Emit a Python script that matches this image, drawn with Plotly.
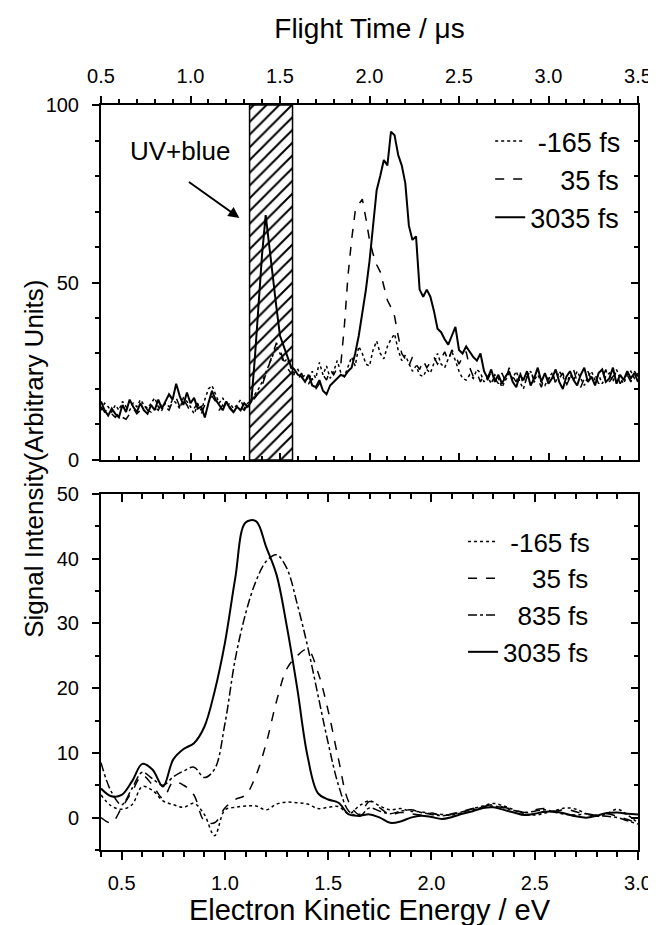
import numpy as np
import plotly.graph_objects as go

# ---- top panel: raw time-of-flight spectra (Flight Time / us) ----
signal_m165 = [
    14.0, 16.0, 15.0, 13.5, 15.5, 14.0, 16.5, 15.0, 14.0, 16.0,
    15.0, 17.0, 15.5, 14.5, 16.0, 17.5, 15.0, 14.0, 16.0, 15.0,
    17.0, 16.0, 14.5, 17.5, 16.5, 15.0, 13.0, 15.5, 14.0, 17.0,
    20.0, 21.0, 18.5, 16.0, 17.5, 15.0, 16.0, 14.5, 15.5, 17.0,
    14.5, 16.0, 17.0, 18.5, 20.0, 22.0, 24.5, 27.0, 29.0, 32.0,
    30.0, 27.5, 28.5, 26.0, 24.5, 25.5, 23.0, 24.0, 22.5, 25.0,
    23.0, 27.5, 24.0, 26.5, 23.0, 25.0, 28.0, 24.5, 23.5, 26.0,
    29.0, 26.5, 32.0, 30.0, 27.0, 26.5, 31.0, 33.5, 30.0, 28.5,
    32.0, 34.0, 35.5, 31.0, 28.0, 29.5, 27.0, 25.0, 26.5, 24.0,
    23.5, 25.5, 24.5, 27.5, 30.0, 27.0, 26.0, 28.5, 30.5, 28.0,
    25.0, 23.0, 22.5, 24.0, 23.0, 25.5, 24.5, 22.0, 23.5, 21.5,
    24.0, 23.0, 20.5, 22.5, 24.5, 23.0, 25.0, 22.0, 20.0, 23.5,
    25.0, 22.5, 24.0, 22.0, 21.0, 23.0, 24.5, 22.0, 25.0, 23.5,
    21.5, 24.0, 22.5, 25.0, 23.0, 21.0, 23.5, 25.0, 22.5, 24.0,
    21.5, 23.5, 24.5, 22.0, 25.5, 23.0, 21.5, 24.0, 25.0, 23.0,
    24.5,
]
signal_35 = [
    15.0, 13.5, 14.5, 13.0, 12.0, 13.5, 12.0, 11.5, 13.0, 14.5,
    13.0, 14.0, 15.5, 14.0, 13.5, 15.0, 14.0, 16.0, 15.0, 14.0,
    16.5, 17.5, 15.0, 17.0, 15.5, 13.5, 14.5, 16.0, 13.0, 15.5,
    17.0, 18.0, 16.5, 14.0, 15.5, 14.0, 15.0, 13.5, 14.5, 15.0,
    14.0, 15.5, 16.0, 17.5, 19.0, 21.0, 24.0, 27.0, 30.0, 33.0,
    31.0, 28.0, 26.0, 24.5, 24.0, 22.5, 24.5, 22.0, 21.5, 23.0,
    20.0, 21.5, 24.0, 22.5, 25.5, 24.0, 26.0, 27.0, 38.0, 52.0,
    62.0, 70.0, 72.0, 73.5, 68.0, 62.0, 58.0, 55.0, 53.0, 49.0,
    45.0, 43.0, 40.5, 35.0, 30.0, 28.5, 26.5, 29.0, 27.0, 25.5,
    28.0, 26.0, 27.5, 29.0, 27.0, 28.5, 30.5, 28.0, 31.0, 29.5,
    27.0, 29.0, 30.5, 26.0, 23.5, 24.5, 22.0, 24.0, 22.5, 25.0,
    23.0, 21.5, 24.5, 22.0, 26.0, 23.5, 22.0, 25.0, 21.0, 23.5,
    25.5, 22.0, 23.0, 20.5, 24.0, 22.5, 25.0, 21.5, 23.0, 24.5,
    21.0, 23.5, 25.5, 22.0, 20.5, 23.0, 25.0, 22.5, 24.0, 21.5,
    23.0, 25.5, 22.0, 23.5, 24.5, 21.5, 23.0, 24.0, 22.0, 25.0,
    23.5,
]
signal_3035 = [
    16.5, 14.0, 12.5, 14.5, 13.0, 12.0, 15.5, 13.5, 17.0, 15.0,
    13.5, 16.0, 14.0, 13.0, 15.5, 14.0, 17.0, 14.5, 16.5, 18.5,
    17.0, 21.5, 18.0, 15.5, 19.0, 16.0, 17.5, 14.5, 15.0, 12.0,
    16.0, 19.5, 17.0, 15.5, 14.0, 16.5, 14.5, 13.5, 15.0, 14.0,
    16.0, 15.0, 16.5, 29.0, 44.0, 58.0, 69.0, 60.0, 51.0, 43.0,
    35.0, 32.0, 29.0, 26.5, 25.5, 24.0, 23.5, 22.0, 24.0, 21.0,
    20.5, 22.5, 19.5, 18.5, 21.0, 22.0, 23.0, 24.0, 23.5, 25.0,
    26.0, 30.0, 35.0, 41.0, 48.0, 56.0, 66.0, 76.0, 80.0, 84.5,
    83.0, 92.5, 91.5, 86.0, 83.0, 78.0, 66.0, 62.0, 63.0, 48.0,
    46.0, 48.0, 46.0, 42.0, 37.0, 36.0, 34.0, 32.5, 35.0, 37.5,
    31.0, 30.0, 32.0, 30.5, 29.0, 28.0, 30.0, 25.0, 23.0, 25.5,
    22.0, 24.0, 21.5, 23.5, 25.0, 22.0, 20.5, 24.0, 22.5, 25.0,
    21.0, 23.0, 26.0, 22.0, 24.5, 21.5, 23.0, 25.5, 22.0, 20.0,
    23.5, 25.0, 22.5, 21.0, 24.0, 26.0, 22.0, 23.5, 21.0, 24.5,
    25.5, 22.0, 23.0, 26.0, 21.5, 24.0, 22.5, 25.0, 23.0, 24.5,
    22.0,
]
flight_time = np.linspace(0.5, 3.5, len(signal_3035))

# flight-time window of the UV+blue signal (hatched)
uv_blue_start = 1.33
uv_blue_end = 1.57

# ---- bottom panel: converted spectra (Electron Kinetic Energy / eV) ----
eke_m165 = [
    3.5, 1.8, 1.3, 2.0, 4.8, 4.2, 2.6, 2.0, 1.6, 2.2,
    0.5, -2.8, 1.2, 1.6, 1.8, 1.8, 1.2, 2.1, 2.4, 2.3,
    2.1, 1.4, 1.6, 1.7, 0.6, 1.8, 2.6, 1.8, 1.2, 1.4,
    1.0, 0.9, 0.6, 0.5, 0.4, 0.8, 1.4, 1.8, 2.2, 1.8,
    1.2, 0.6, 0.4, 0.7, 1.1, 1.5, 1.3, 0.6, 0.2, 0.6,
    1.3, 0.4, -0.8,
]
eke_35 = [
    0.0, -0.8, 1.5, 4.0, 6.5, 5.0, 3.0, 5.5, 5.0, 3.5,
    -0.5, -0.8, 1.5, 2.8, 3.5, 6.5, 11.5, 18.0, 23.0, 25.0,
    26.0, 22.5, 16.5, 9.0, 2.4, 0.5, 2.5, 1.5, 0.5, 0.8,
    0.6, 0.4, 0.7, 0.3, 0.6, 1.0, 1.4, 1.7, 2.0, 1.6,
    1.2, 0.8, 1.2, 1.4, 1.0, 1.3, 0.9, 0.5, 0.4, 0.6,
    0.2, -0.3, -0.9,
]
eke_835 = [
    8.5, 4.0, 2.0, 4.5, 7.0, 6.0, 5.0, 6.3, 7.2, 7.8,
    6.2, 7.5, 14.5, 24.5, 31.5, 36.5, 39.6, 40.6, 38.5, 33.0,
    26.5, 19.0, 11.5, 5.0, 1.0, 0.2, 1.5, 1.0, 0.6, 1.0,
    1.2, 0.8, 0.5, 0.3, 0.5, 0.9, 1.2, 1.6, 1.8, 1.5,
    1.1, 0.8, 1.0, 1.2, 0.8, 0.5, 0.4, 0.6, 0.3, 0.2,
    0.0, -0.5, -1.0,
]
eke_3035 = [
    4.5, 3.3, 3.5, 5.6, 8.3, 7.4, 4.8, 9.0, 10.6, 11.5,
    14.0, 19.5, 27.0, 37.0, 45.6, 45.8, 41.8, 37.5, 29.5, 20.0,
    9.5, 3.8, 2.8, 2.3, 0.5, 0.3, 0.5, 0.0, -0.8, -0.6,
    0.0, 0.3, 0.1, -0.2, 0.1, 0.6, 1.0, 1.5, 1.6, 1.2,
    0.8, 0.4, 0.6, 0.9, 0.9, 0.6, 0.2, 0.0, 0.3, 0.7,
    0.8, 0.6, 0.5,
]
energy = np.linspace(0.4, 3.0, len(eke_3035))

NB = '\u00a0'
FONT = 'Liberation Sans, Arial, sans-serif'

fig = go.Figure()

# hatched UV+blue window
fig.add_trace(go.Bar(
    x=[(uv_blue_start + uv_blue_end) / 2], y=[100], base=0,
    width=[uv_blue_end - uv_blue_start], opacity=1,
    marker=dict(color='white', line=dict(color='black', width=1.5),
                pattern=dict(shape='/', fgcolor='black', bgcolor='white',
                             size=9, solidity=0.22, fgopacity=1)),
    showlegend=False, hoverinfo='skip', xaxis='x', yaxis='y'))

top_series = [
    (signal_m165, NB + '-165 fs', 'dot', 1.5),
    (signal_35, NB * 4 + '35 fs', 'dash', 1.5),
    (signal_3035, '3035 fs', 'solid', 2.0),
]
for ys, name, dash, w in top_series:
    fig.add_trace(go.Scatter(
        x=flight_time, y=ys, name=name, mode='lines',
        line=dict(color='black', dash=dash, width=w),
        xaxis='x', yaxis='y', legend='legend'))

bottom_series = [
    (eke_m165, NB + '-165 fs', 'dot', 1.5),
    (eke_35, NB * 4 + '35 fs', 'dash', 1.5),
    (eke_835, NB * 2 + '835 fs', 'dashdot', 1.5),
    (eke_3035, '3035 fs', 'solid', 2.0),
]
for ys, name, dash, w in bottom_series:
    fig.add_trace(go.Scatter(
        x=energy, y=ys, name=name, mode='lines',
        line=dict(color='black', dash=dash, width=w, shape='spline', smoothing=1.0),
        xaxis='x2', yaxis='y2', legend='legend2'))

# empty traces so the mirrored frame axes (inside ticks) get drawn
for xa, ya in [('x3', 'y3'), ('x4', 'y4')]:
    fig.add_trace(go.Scatter(x=[None], y=[None], xaxis=xa, yaxis=ya,
                             showlegend=False, hoverinfo='skip'))

tick_font = dict(family=FONT, size=20, color='black')
common = dict(showline=True, linecolor='black', linewidth=2, showgrid=False,
              zeroline=False, tickcolor='black', tickwidth=1.5, tickfont=tick_font)


def minor(step, side, ln):
    return dict(dtick=step, ticks=side, ticklen=ln, tickcolor='black', tickwidth=1.5)


top_dom = [0.5235, 1.0]
bot_dom = [0.0, 0.4779]

fig.update_layout(
    width=656, height=925,
    margin=dict(l=93, r=16, t=97, b=83),
    plot_bgcolor='white', paper_bgcolor='white',
    font=dict(family=FONT, color='black'),
    barmode='overlay',
    # top panel
    xaxis=dict(**common, domain=[0, 1], anchor='y', side='top', range=[0.5, 3.5],
               dtick=0.5, tickformat='.1f', ticks='outside', ticklen=7,
               ticklabelstandoff=5, minor=minor(0.1, 'outside', 4),
               title=dict(text='Flight Time / \u03bcs',
                          font=dict(family=FONT, size=28, color='black'), standoff=18)),
    yaxis=dict(**common, domain=top_dom, anchor='x', range=[0, 100], dtick=50,
               ticks='outside', ticklen=7, ticklabelstandoff=9,
               minor=minor(10, 'outside', 4)),
    xaxis3=dict(**common, overlaying='x', anchor='y', side='bottom', range=[0.5, 3.5],
                dtick=0.5, ticks='inside', ticklen=7, showticklabels=False,
                minor=minor(0.1, 'inside', 4)),
    yaxis3=dict(**common, overlaying='y', anchor='x', side='right', range=[0, 100],
                dtick=50, ticks='inside', ticklen=7, showticklabels=False,
                minor=minor(10, 'inside', 4)),
    # bottom panel
    xaxis2=dict(**common, domain=[0, 1], anchor='y2', side='bottom', range=[0.4, 3.0],
                dtick=0.5, tick0=0.5, tickformat='.1f', ticks='outside', ticklen=8,
                ticklabelstandoff=6, minor=minor(0.1, 'outside', 5),
                title=dict(text='Electron Kinetic Energy / eV',
                           font=dict(family=FONT, size=29, color='black'), standoff=0)),
    yaxis2=dict(**common, domain=bot_dom, anchor='x2', range=[-5, 50], dtick=10,
                tick0=0, ticks='outside', ticklen=7, ticklabelstandoff=9,
                minor=minor(5, 'outside', 4)),
    xaxis4=dict(**common, overlaying='x2', anchor='y2', side='top', range=[0.4, 3.0],
                dtick=0.5, tick0=0.5, ticks='inside', ticklen=8, showticklabels=False,
                minor=minor(0.1, 'inside', 5)),
    yaxis4=dict(**common, overlaying='y2', anchor='x2', side='right', range=[-5, 50],
                dtick=10, tick0=0, ticks='inside', ticklen=7, showticklabels=False,
                minor=minor(5, 'inside', 4)),
    legend=dict(x=0.978, xanchor='right', y=0.984, yanchor='top',
                bgcolor='rgba(0,0,0,0)', font=dict(family=FONT, size=27, color='black')),
    legend2=dict(x=0.92, xanchor='right', y=0.4456, yanchor='top',
                 bgcolor='rgba(0,0,0,0)', font=dict(family=FONT, size=26, color='black')),
)

# UV+blue label and arrow pointing at the hatched window
fig.add_annotation(x=0.94, y=87, xref='x', yref='y', text='UV+blue', showarrow=False,
                   font=dict(family=FONT, size=26, color='black'))
fig.add_annotation(x=1.273, y=68.2, xref='x', yref='y', ax=0.983, ay=78.6,
                   axref='x', ayref='y', text='', showarrow=True,
                   arrowhead=2, arrowsize=1.1, arrowwidth=2, arrowcolor='black')

# shared y title
fig.add_annotation(x=-0.126, y=0.5255, xref='paper', yref='paper',
                   xanchor='center', yanchor='middle',
                   text='Signal Intensity(Arbitrary Units)', showarrow=False,
                   textangle=-90, font=dict(family=FONT, size=26, color='black'))

fig.write_html('out.html')
